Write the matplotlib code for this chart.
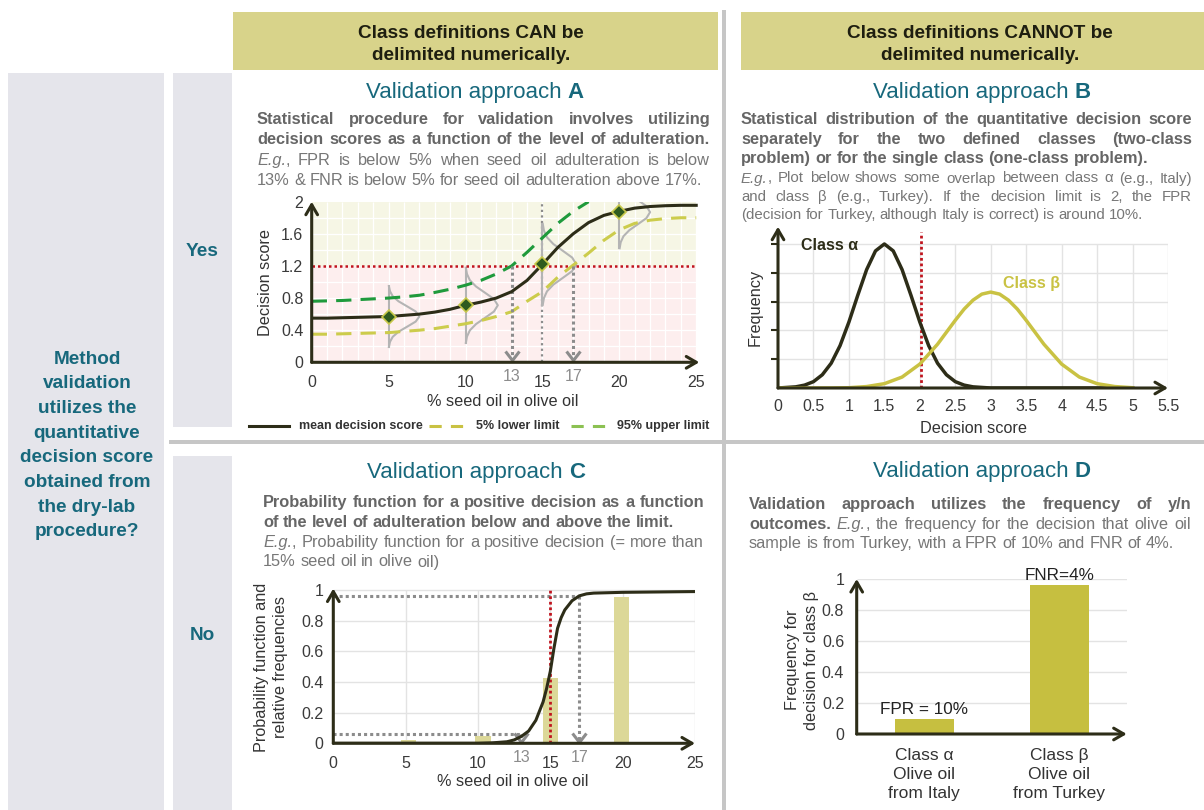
import matplotlib
matplotlib.use("Agg")
import matplotlib.pyplot as plt
from matplotlib.patches import Rectangle
from matplotlib.path import Path

plt.rcParams['font.family'] = ['Liberation Sans', 'DejaVu Sans']

W, H = 1204, 810

DARK = '#2d2d18'
TEAL = '#17687c'
KHAKI = '#d8d38a'
PANEL_GRAY = '#e5e5eb'
DIV = '#c6c6c6'
OLIVE = '#c9c243'
GREEN = '#1f9a3c'
LGREEN = '#8cc152'
RED = '#c0141e'
DOT = '#8c8c8c'
TXT_B = '#666666'
TXT_R = '#777777'
TICK = '#3a3a3a'

# ---- panel A: decision score vs adulteration
A_x = [0, 1, 2, 3, 4, 5, 6, 7, 8, 9, 10, 11, 12, 13, 14, 15, 16, 17, 18, 19, 20, 21, 22, 23, 24, 25]
A_mean = [0.55, 0.55, 0.555, 0.56, 0.565, 0.57, 0.585, 0.60, 0.625, 0.66, 0.71, 0.75, 0.80, 0.88, 1.02,
          1.22, 1.43, 1.60, 1.74, 1.83, 1.88, 1.92, 1.94, 1.95, 1.955, 1.955]
A_low = [0.35, 0.35, 0.355, 0.36, 0.365, 0.37, 0.385, 0.40, 0.42, 0.45, 0.48, 0.52, 0.57, 0.63, 0.76,
         0.88, 1.06, 1.21, 1.36, 1.52, 1.65, 1.73, 1.77, 1.79, 1.80, 1.80]
A_up_x = [0, 1, 2, 3, 4, 5, 6, 7, 8, 9, 10, 11, 12, 13, 14, 15, 16, 17, 18]
A_up = [0.76, 0.765, 0.77, 0.78, 0.79, 0.80, 0.815, 0.835, 0.87, 0.91, 0.96, 1.02, 1.10, 1.20, 1.37,
        1.55, 1.73, 1.88, 2.0]
A_pts_x = [5, 10, 15, 20]
A_pts_y = [0.57, 0.71, 1.22, 1.87]
A_spread = [1.05, 1.3, 1.4, 1.25]
A_width = [1.0, 1.05, 1.1, 1.0]
A_prof_dy = [-0.36, -0.30, -0.24, -0.18, -0.12, -0.06, 0, 0.06, 0.12, 0.18, 0.24, 0.30, 0.36]
A_prof_dx = [0.02, 0.09, 0.27, 0.65, 1.21, 1.76, 2.0, 1.76, 1.21, 0.65, 0.27, 0.09, 0.02]
A_limit = 1.2
A_cuts = [13, 17]
A_xticks = [0, 5, 10, 15, 20, 25]
A_yticks = [0, 0.4, 0.8, 1.2, 1.6, 2]

# ---- panel B: class distributions
B_alpha_x = [0, 0.25, 0.375, 0.5, 0.625, 0.75, 0.875, 1.0, 1.125, 1.25, 1.375, 1.5, 1.625, 1.75, 1.875,
             2.0, 2.125, 2.25, 2.375, 2.5, 2.625, 2.75, 3.0, 4.0, 5.0]
B_alpha_y = [0.0, 0.04, 0.10, 0.22, 0.46, 0.86, 1.47, 2.29, 3.22, 4.11, 4.76, 5.0, 4.76, 4.11, 3.22,
             2.29, 1.47, 0.86, 0.46, 0.22, 0.10, 0.04, 0.0, 0.0, 0.0]
B_beta_x = [0, 0.5, 0.75, 1.0, 1.25, 1.5, 1.75, 2.0, 2.25, 2.5, 2.625, 2.75, 2.875, 3.0, 3.125, 3.25,
            3.375, 3.5, 3.75, 4.0, 4.25, 4.5, 4.75, 5.0]
B_beta_y = [0.0, 0.0, 0.0, 0.01, 0.05, 0.15, 0.38, 0.83, 1.52, 2.35, 2.74, 3.05, 3.26, 3.33, 3.26, 3.05,
            2.74, 2.35, 1.52, 0.83, 0.38, 0.15, 0.05, 0.01]
B_limit = 2.02
B_xticks = [0, 0.5, 1, 1.5, 2, 2.5, 3, 3.5, 4, 4.5, 5, 5.5]
B_ygrid = [1, 2, 3, 4, 5]

# ---- panel C: probability of a positive decision
C_x = [0, 10, 11, 12, 12.5, 13, 13.5, 14, 14.5, 14.75, 15, 15.25, 15.5, 15.75, 16, 16.5, 17, 17.5, 18, 20, 25]
C_y = [0, 0, 0.003, 0.01, 0.022, 0.045, 0.08, 0.15, 0.27, 0.36, 0.47, 0.62, 0.75, 0.82, 0.87, 0.93,
       0.962, 0.975, 0.98, 0.985, 0.99]
C_bar_x = [5.2, 10.35, 15.0, 19.9]
C_bar_h = [0.022, 0.047, 0.425, 0.957]
C_limit = 15
C_low = (13, 0.06)
C_high = (17, 0.96)
C_yticks = [0, 0.2, 0.4, 0.6, 0.8, 1]

# ---- panel D: y/n frequencies
D_cats = ['Class α\nOlive oil\nfrom Italy', 'Class β\nOlive oil\nfrom Turkey']
D_vals = [0.1, 0.96]
D_notes = ['FPR = 10%', 'FNR=4%']
D_yticks = [0, 0.2, 0.4, 0.6, 0.8, 1]

fig = plt.figure(figsize=(W / 100, H / 100), dpi=100)
bg = fig.add_axes([0, 0, 1, 1])
bg.set_xlim(0, W)
bg.set_ylim(H, 0)
bg.axis('off')
R = fig.canvas.get_renderer()

# boxes and dividers
for x, y, w, h, c in [(233, 12, 485, 58, KHAKI), (741, 12, 463, 58, KHAKI),
                      (8, 73, 156, 737, PANEL_GRAY), (173, 73, 59, 354, PANEL_GRAY),
                      (173, 456, 59, 354, PANEL_GRAY), (722, 10, 4, 800, DIV),
                      (169, 440, 1035, 4, DIV)]:
    bg.add_patch(Rectangle((x, y), w, h, color=c, lw=0))

STY = {'b': {'weight': 'bold'}, 'i': {'style': 'italic'}, 'r': {}}
COL = {'b': TXT_B, 'i': TXT_R, 'r': TXT_R}


def text_w(s, size, st='r'):
    t = bg.text(0, 0, s, fontsize=size, **STY[st])
    w = t.get_window_extent(renderer=R).width
    t.remove()
    return w


def split_words(segs):
    words = []
    for k, (txt, st) in enumerate(segs):
        for j, p in enumerate(txt.split(' ')):
            if not p:
                continue
            if j == 0 and words and k > 0 and not txt.startswith(' '):
                words[-1].append((p, st))
            else:
                words.append([(p, st)])
    return words


def line_widths(words, size):
    sp = text_w('a a', size) - text_w('aa', size)
    return sp, [sum(text_w(p, size, st) for p, st in w) for w in words]


def paragraph(x0, x1, y0, dy, lines, size):
    # one font size per block, shrunk only if a line would not fit
    all_words = [split_words(segs) for segs, _ in lines]
    fit = 1.0
    for words in all_words:
        sp, ws = line_widths(words, size)
        fit = min(fit, (x1 - x0) / (sum(ws) + sp * (len(ws) - 1)) * 0.995)
    size *= fit
    for i, (words, (_, just)) in enumerate(zip(all_words, lines)):
        sp, ws = line_widths(words, size)
        gap = (x1 - x0 - sum(ws)) / (len(ws) - 1) if just else sp
        x = x0
        for w, wd in zip(words, ws):
            xx = x
            for p, st in w:
                bg.text(xx, y0 + i * dy, p, fontsize=size, color=COL[st], va='center_baseline', **STY[st])
                xx += text_w(p, size, st)
            x += wd + gap


def title(cx, cy, letter, size=16):
    a = 'Validation approach'
    wa = text_w(a, size)
    sp = text_w('a a', size) - text_w('aa', size)
    wl = text_w(letter, size, 'b')
    x0 = cx - (wa + sp + wl) / 2
    bg.text(x0, cy, a, fontsize=size, color=TEAL, va='center_baseline')
    bg.text(x0 + wa + sp, cy, letter, fontsize=size, color=TEAL, weight='bold', va='center_baseline')


# headers
for cx, lines in [(471, ['Class definitions CAN be', 'delimited numerically.']),
                  (980, ['Class definitions CANNOT be', 'delimited numerically.'])]:
    for i, s in enumerate(lines):
        bg.text(cx, 32 + i * 21.6, s, fontsize=13.7, weight='bold', color='#1e1e10',
                ha='center', va='center_baseline')

left_q = ['Method', 'validation', 'utilizes the', 'quantitative', 'decision score',
          'obtained from', 'the dry-lab', 'procedure?']
for i, s in enumerate(left_q):
    bg.text(87, 357 + i * 24.7, s, fontsize=13.7, weight='bold', color=TEAL, ha='center', va='center_baseline')
bg.text(202, 250, 'Yes', fontsize=13.7, weight='bold', color=TEAL, ha='center', va='center_baseline')
bg.text(202, 634, 'No', fontsize=13.7, weight='bold', color=TEAL, ha='center', va='center_baseline')

title(475, 90, 'A')
title(982, 90, 'B')
title(476, 470, 'C')
title(982, 469, 'D')

paragraph(257, 710, 118, 20, [
    ([('Statistical procedure for validation involves utilizing', 'b')], True),
    ([('decision scores as a function of the level of adulteration.', 'b')], True)], 11.8)
paragraph(257, 710, 159, 20, [
    ([('E.g.', 'i'), (', FPR is below 5% when seed oil adulteration is below', 'r')], True),
    ([('13% & FNR is below 5% for seed oil adulteration above 17%.', 'r')], False)], 11.8)

paragraph(741, 1192, 118, 19.6, [
    ([('Statistical distribution of the quantitative decision score', 'b')], True),
    ([('separately for the two defined classes (two-class', 'b')], True),
    ([('problem) or for the single class (one-class problem).', 'b')], False)], 11.8)
paragraph(741, 1192, 177, 18.2, [
    ([('E.g.', 'i'), (', Plot below shows some overlap between class α (e.g., Italy)', 'r')], True),
    ([('and class β (e.g., Turkey). If the decision limit is 2, the FPR', 'r')], True),
    ([('(decision for Turkey, although Italy is correct) is around 10%.', 'r')], False)], 10.8)

paragraph(263, 704, 501, 20, [
    ([('Probability function for a positive decision as a function', 'b')], True),
    ([('of the level of adulteration below and above the limit.', 'b')], False)], 11.8)
paragraph(263, 704, 541, 19.5, [
    ([('E.g.', 'i'), (', Probability function for a positive decision (= more than', 'r')], True),
    ([('15% seed oil in olive oil)', 'r')], False)], 11.8)

paragraph(749, 1191, 503, 19.7, [
    ([('Validation approach utilizes the frequency of y/n', 'b')], True),
    ([('outcomes.', 'b'), (' E.g.', 'i'), (', the frequency for the decision that olive oil', 'r')], True),
    ([('sample is from Turkey, with a FPR of 10% and FNR of 4%.', 'r')], False)], 11.8)

# legend under panel A
bg.plot([249, 289], [426, 426], color=DARK, lw=2.2)
bg.text(299, 426, 'mean decision score', fontsize=9, weight='bold', color='#333333', va='center')
bg.plot([429, 469], [426, 426], color=OLIVE, lw=2.2, dashes=(4, 3))
bg.text(476, 426, '5% lower limit', fontsize=9, weight='bold', color='#333333', va='center')
bg.plot([571, 610], [426, 426], color=LGREEN, lw=2.2, dashes=(4, 3))
bg.text(617, 426, '95% upper limit', fontsize=9, weight='bold', color='#333333', va='center')


def px_axes(x0, x1, ytop, ybot):
    ax = fig.add_axes([x0 / W, 1 - ybot / H, (x1 - x0) / W, (ybot - ytop) / H])
    ax.patch.set_alpha(0)
    for s in ax.spines.values():
        s.set_visible(False)
    ax.tick_params(length=0, labelsize=11.5, labelcolor=TICK)
    return ax


CHEV = Path([(-1, 1.3), (0, 0), (1, 1.3)], [Path.MOVETO, Path.LINETO, Path.LINETO])


def arrows(ax):
    kw = dict(arrowstyle='->,head_length=0.6,head_width=0.35', lw=2.2, color=DARK,
              shrinkA=0, shrinkB=0, mutation_scale=12)
    ax.annotate('', xy=(1, 0), xytext=(0, 0), xycoords='axes fraction', arrowprops=kw, annotation_clip=False)
    ax.annotate('', xy=(0, 1), xytext=(0, 0), xycoords='axes fraction', arrowprops=kw, annotation_clip=False)


def labels(ax, xl, fx, fy, yl, gx, gy, size=11.7):
    ax.set_xlabel(xl, fontsize=size, color='#333333', va='center')
    ax.xaxis.set_label_coords(fx, fy)
    ax.set_ylabel(yl, fontsize=size, color='#333333', va='center', linespacing=1.35)
    ax.yaxis.set_label_coords(gx, gy)


# ---- A
axA = px_axes(311.7, 699.3, 201.7, 362.3)
axA.set_xlim(0, 25.2)
axA.set_ylim(0, 2)
axA.fill_between([0, 25], A_limit, 2, color='#f6f6e5', lw=0, zorder=0)
axA.fill_between([0, 25], 0, A_limit, color='#fdeeee', lw=0, zorder=0)
axA.vlines(A_x[1:], 0, 2, colors='white', lw=0.9, zorder=0.5)
axA.hlines([0.2, 0.4, 0.6, 0.8, 1.0, 1.4, 1.6, 1.8], 0, 25, colors='white', lw=0.9, zorder=0.5)
axA.vlines(15, 0, 2, colors=DOT, lw=1.6, linestyles=(0, (1, 1.5)), zorder=1)
for px_, py_, sc, wd in zip(A_pts_x, A_pts_y, A_spread, A_width):
    ys = [py_ + d * sc for d in A_prof_dy]
    xs = [px_ + v * wd for v in A_prof_dx]
    axA.plot(xs, ys, color='#b4b4b4', lw=1.5, zorder=2)
    axA.plot([px_, px_], [ys[0], ys[-1]], color='#b4b4b4', lw=1.5, zorder=2)
axA.axhline(A_limit, xmax=25 / 25.2, color=RED, lw=1.8, ls=(0, (1, 1.2)), zorder=3)
axA.plot(A_x, A_low, color='#cccc4c', lw=2.2, dashes=(5, 3), zorder=3)
axA.plot(A_up_x, A_up, color=GREEN, lw=2.2, dashes=(5, 3), zorder=3)
axA.plot(A_x, A_mean, color=DARK, lw=2.2, zorder=4)
for c in A_cuts:
    axA.plot([c, c], [A_limit, 0.03], color=DOT, lw=2.2, ls=(0, (1, 1)), zorder=3)
    axA.plot(c, 0.03, marker=CHEV, ms=13, mfc='none', mec=DOT, mew=2.2, zorder=3, clip_on=False)
    axA.text(c, -0.18, str(c), fontsize=11.5, color=DOT, ha='center', va='center')
axA.plot(A_pts_x, A_pts_y, 'D', ms=7.5, mfc='#2f5b1f', mec='#c8c84a', mew=1.2, zorder=6)
axA.set_xticks(A_xticks)
axA.set_yticks(A_yticks, [f'{v:g}' for v in A_yticks])
axA.tick_params(axis='x', pad=9)
axA.tick_params(axis='y', pad=6)
labels(axA, '% seed oil in olive oil', 0.494, -0.247, 'Decision score', -0.12, 0.5)
arrows(axA)

# ---- B
axB = px_axes(778, 1168, 226.7, 388)
axB.set_xlim(0, 5.5)
axB.set_ylim(0, 5.6)
axB.vlines(B_xticks[1:], 0, 5, colors='#e3e3e3', lw=1, zorder=0)
axB.hlines(B_ygrid, 0, 5.5, colors='#e3e3e3', lw=1, zorder=0)
axB.axvline(B_limit, ymax=5.4 / 5.6, color=RED, lw=2, ls=(0, (1, 1)), zorder=2)
axB.plot(B_alpha_x, B_alpha_y, color=DARK, lw=2.5, zorder=3)
axB.plot(B_beta_x, B_beta_y, color=OLIVE, lw=2.5, zorder=3)
axB.text(0.33, 4.93, 'Class α', fontsize=11.5, weight='bold', color=DARK, va='center')
axB.text(3.17, 3.63, 'Class β', fontsize=11.5, weight='bold', color=OLIVE, va='center')
axB.set_xticks(B_xticks, [f'{v:g}' for v in B_xticks])
axB.set_yticks(B_ygrid, [])
axB.tick_params(axis='y', length=5, width=1.5, color=DARK)
axB.tick_params(axis='x', pad=8)
labels(axB, 'Decision score', 0.5, -0.248, 'Frequency', -0.059, 0.5)
arrows(axB)

# ---- C
axC = px_axes(333.3, 695, 588.5, 743.3)
axC.set_xlim(0, 25)
axC.set_ylim(0, 1.01)
axC.hlines(C_yticks[1:], 0, 25, colors='#e3e3e3', lw=1, zorder=0)
axC.vlines(A_xticks[1:], 0, 1, colors='#e3e3e3', lw=1, zorder=0)
axC.bar(C_bar_x, C_bar_h, width=1.05, color='#dcd898', zorder=1)
axC.hlines([C_low[1], C_high[1]], 0, [C_low[0], C_high[0]], colors=DOT, lw=2.2,
           linestyles=(0, (1, 1)), zorder=2)
for cx, cy in [C_low, C_high]:
    axC.plot([cx, cx], [cy, 0.01], color=DOT, lw=2.2, ls=(0, (1, 1)), zorder=2)
    axC.plot(cx, 0.01, marker=CHEV, ms=13, mfc='none', mec=DOT, mew=2.2, zorder=2, clip_on=False)
    axC.text(cx, -0.09, str(cx), fontsize=11.5, color=DOT, ha='center', va='center')
axC.axvline(C_limit, ymax=1, color=RED, lw=2, ls=(0, (1, 1)), zorder=3)
axC.plot(C_x, C_y, color=DARK, lw=2.2, zorder=4)
axC.set_xticks(A_xticks)
axC.set_yticks(C_yticks, [f'{v:g}' for v in C_yticks])
axC.tick_params(axis='x', pad=9)
axC.tick_params(axis='y', pad=7)
labels(axC, '% seed oil in olive oil', 0.497, -0.25, 'Probability function and\nrelative frequencies',
       -0.172, 0.49)
arrows(axC)

# ---- D
axD = px_axes(856.7, 1126.7, 579, 734)
axD.set_xlim(-0.5, 1.5)
axD.set_ylim(0, 1.0)
axD.hlines(D_yticks[1:], -0.5, 1.5, colors='#e3e3e3', lw=1, zorder=0)
axD.bar([0, 1], D_vals, width=0.44, color='#c6bf40', zorder=1)
for i, (v, s) in enumerate(zip(D_vals, D_notes)):
    axD.text(i, v + 0.012, s, fontsize=12.3, color='#222222', ha='center', va='bottom')
axD.set_xticks([0, 1], D_cats, linespacing=1.35, fontsize=12.5, color='#333333')
axD.set_yticks(D_yticks, [f'{v:g}' for v in D_yticks])
axD.tick_params(axis='x', pad=10)
axD.tick_params(axis='y', pad=9)
axD.set_ylabel('Frequency for\ndecision for class β', fontsize=11.7, color='#333333', va='center', linespacing=1.35)
axD.yaxis.set_label_coords(-0.203, 0.477)
arrows(axD)

fig.savefig('out.png', dpi=100)
